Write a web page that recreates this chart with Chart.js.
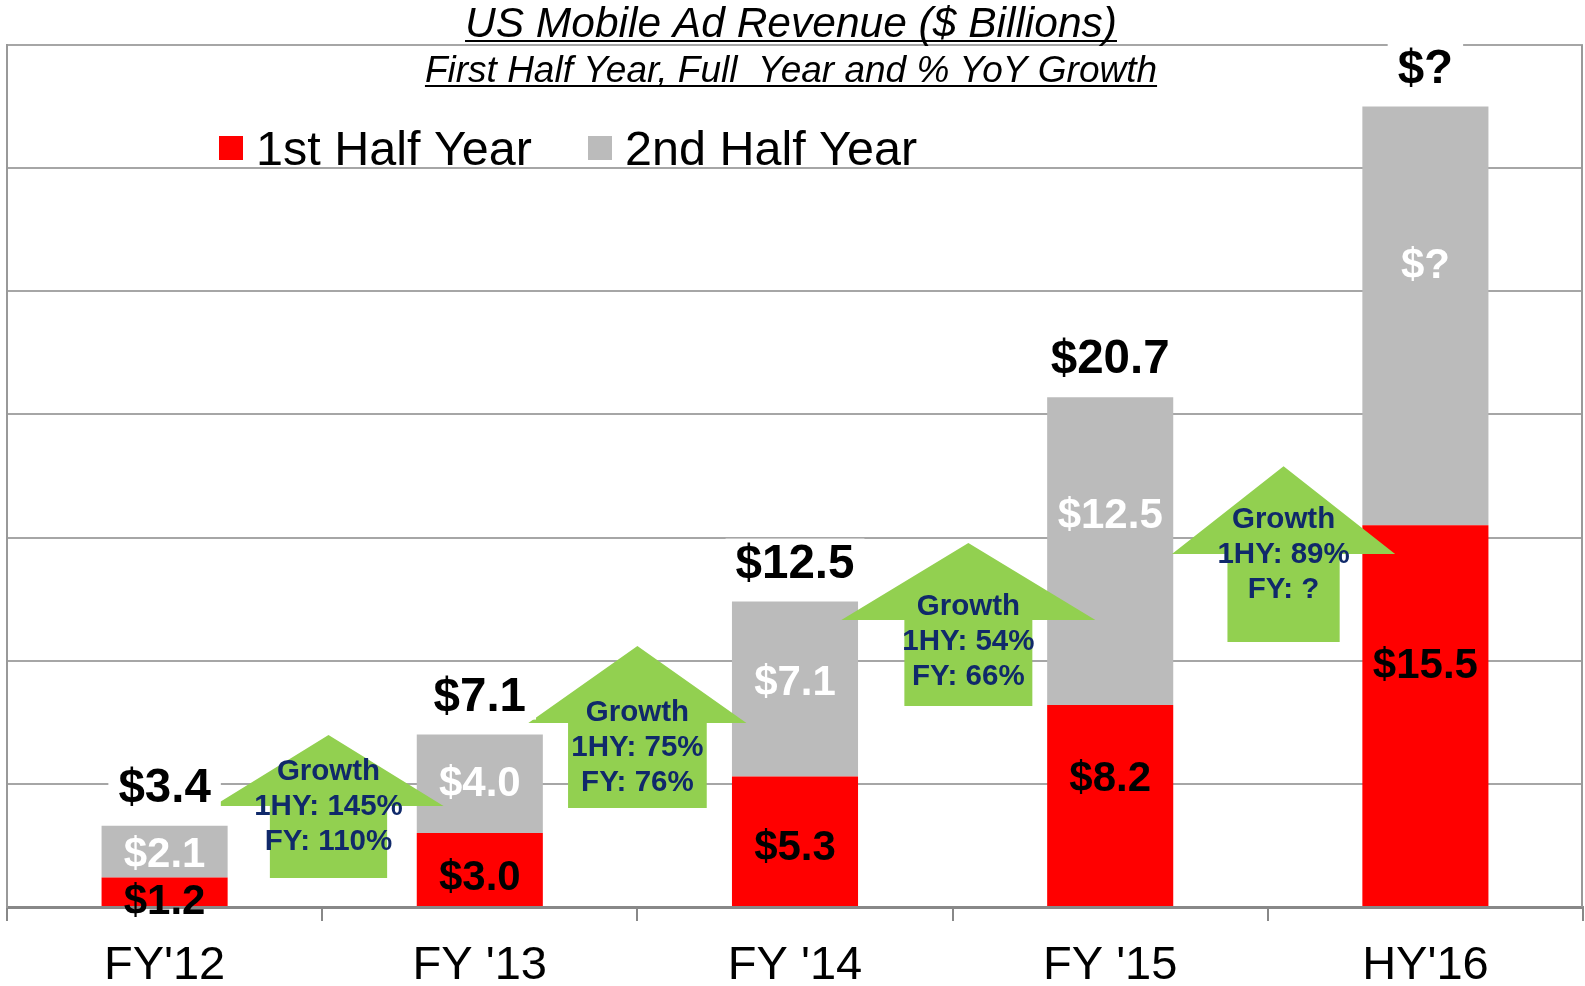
<!DOCTYPE html>
<html>
<head>
<meta charset="utf-8">
<script src="https://cdn.jsdelivr.net/npm/chart.js@4.4.1/dist/chart.umd.min.js"></script>
<style>
  html, body { margin: 0; padding: 0; background: #fff; }
  #wrap { width: 1585px; height: 986px; position: relative; }
</style>
</head>
<body>
<div id="wrap"><canvas id="revenueChart"></canvas></div>
<script>
/* ==========================================================================
   DATA ($ billions)
   ========================================================================== */
const periods = ["FY'12", "FY '13", "FY '14", "FY '15", "HY'16"];
const firstHalf = [1.2, 3.0, 5.3, 8.2, 15.5];
const secondHalf = [2.1, 4.0, 7.1, 12.5, 17.0];
const secondHalfLabels = ['$2.1', '$4.0', '$7.1', '$12.5', '$?'];
const totalLabels = ['$3.4', '$7.1', '$12.5', '$20.7', '$?'];
const growthLabels = [
    ['Growth', '1HY: 145%', 'FY: 110%'],
    ['Growth', '1HY: 75%', 'FY: 76%'],
    ['Growth', '1HY: 54%', 'FY: 66%'],
    ['Growth', '1HY: 89%', 'FY: ?']
];
const yMax = 35;
const yStep = 5;

// Growth arrows, placed on the scales: x = category index, y = $ value
const arrowShapes = [
    { x: 0.52, tip: 6.98, neck: 4.10, foot: 1.18, head: 0.365, shaft: 0.186, text: 5.48 },
    { x: 1.50, tip: 10.6, neck: 7.47, foot: 4.02, head: 0.346, shaft: 0.22, text: 7.88 },
    { x: 2.55, tip: 14.78, neck: 11.65, foot: 8.16, head: 0.403, shaft: 0.203, text: 12.18 },
    { x: 3.55, tip: 17.9, neck: 14.33, foot: 10.76, head: 0.354, shaft: 0.178, text: 15.71 }
];

const FONT = "'Liberation Sans', Arial, sans-serif";
const RED = '#ff0000';
const GREY = '#bbbbbb';
const GREEN = '#92d050';
const NAVY = '#10296a';

/* ==========================================================================
   CUSTOM DRAWING: arrows, bar labels, title, legend
   ========================================================================== */
function underlinedText(ctx, text, cx, baseline, font, gap) {
    ctx.font = font;
    ctx.textAlign = 'center';
    ctx.textBaseline = 'alphabetic';
    ctx.fillStyle = '#000';
    ctx.fillText(text, cx, baseline);
    const w = ctx.measureText(text).width;
    ctx.strokeStyle = '#000';
    ctx.lineWidth = 2;
    ctx.beginPath();
    ctx.moveTo(cx - w / 2, baseline + gap);
    ctx.lineTo(cx + w / 2, baseline + gap);
    ctx.stroke();
}

// where a label sits inside a stacked segment
function segmentLabelY(bar, isFirstHalf) {
    const top = Math.min(bar.y, bar.base);
    const h = Math.abs(bar.base - bar.y);
    if (h >= 185) return top + h * 0.37 + (isFirstHalf ? 0 : 5);
    return top + h / 2 + (isFirstHalf ? 12 - 0.04 * h : 7 - 0.07 * h);
}

const decorations = {
    id: 'decorations',
    afterDatasetsDraw(chart) {
        const { ctx, scales: { x, y } } = chart;
        const x0 = x.getPixelForValue(0);
        const cw = x.getPixelForValue(1) - x0;
        ctx.save();

        // growth arrows
        arrowShapes.forEach((a, i) => {
            const cx = x0 + a.x * cw;
            const tipY = y.getPixelForValue(a.tip);
            const neckY = y.getPixelForValue(a.neck);
            const footY = y.getPixelForValue(a.foot);
            const hw = a.head * cw;
            const sw = a.shaft * cw;
            ctx.fillStyle = GREEN;
            ctx.beginPath();
            ctx.moveTo(cx, tipY);
            ctx.lineTo(cx + hw, neckY);
            ctx.lineTo(cx + sw, neckY);
            ctx.lineTo(cx + sw, footY);
            ctx.lineTo(cx - sw, footY);
            ctx.lineTo(cx - sw, neckY);
            ctx.lineTo(cx - hw, neckY);
            ctx.closePath();
            ctx.fill();

            ctx.fillStyle = NAVY;
            ctx.font = 'bold 29.5px ' + FONT;
            ctx.textAlign = 'center';
            ctx.textBaseline = 'middle';
            const ty = y.getPixelForValue(a.text);
            growthLabels[i].forEach((line, k) => {
                ctx.fillText(line, cx, ty + k * 35);
            });
        });

        // labels inside the stacked segments
        const metaA = chart.getDatasetMeta(0);
        const metaB = chart.getDatasetMeta(1);
        ctx.textAlign = 'center';
        ctx.textBaseline = 'middle';
        ctx.font = 'bold 42px ' + FONT;
        metaA.data.forEach((bar, i) => {
            ctx.fillStyle = '#000';
            ctx.fillText('$' + firstHalf[i].toFixed(1), bar.x, segmentLabelY(bar, true));
        });
        metaB.data.forEach((bar, i) => {
            ctx.fillStyle = '#fff';
            ctx.fillText(secondHalfLabels[i], bar.x, segmentLabelY(bar, false));
        });

        // totals above each bar, on a white patch
        ctx.font = 'bold 47.5px ' + FONT;
        metaB.data.forEach((bar, i) => {
            const ly = bar.y - 39;
            const w = ctx.measureText(totalLabels[i]).width;
            ctx.fillStyle = '#fff';
            ctx.fillRect(bar.x - w / 2 - 10, ly - 24, w + 20, 48);
            ctx.fillStyle = '#000';
            ctx.fillText(totalLabels[i], bar.x, ly + 2);
        });
        ctx.restore();
    },
    afterDraw(chart) {
        const { ctx, chartArea } = chart;
        ctx.save();

        // right frame edge
        ctx.strokeStyle = '#999';
        ctx.lineWidth = 2;
        ctx.beginPath();
        ctx.moveTo(chartArea.right - 1, chartArea.top);
        ctx.lineTo(chartArea.right - 1, chartArea.bottom);
        ctx.stroke();

        // title + subtitle
        underlinedText(ctx, 'US Mobile Ad Revenue ($ Billions)', 791, 37, 'italic 42.5px ' + FONT, 4);
        underlinedText(ctx, 'First Half Year, Full  Year and % YoY Growth', 791, 82, 'italic 37px ' + FONT, 4);

        // legend
        const items = [
            { x: 219, textX: 256 },
            { x: 588, textX: 625 }
        ];
        ctx.font = '48.5px ' + FONT;
        ctx.textAlign = 'left';
        ctx.textBaseline = 'alphabetic';
        chart.data.datasets.forEach((ds, i) => {
            ctx.fillStyle = ds.backgroundColor;
            ctx.fillRect(items[i].x, 136, 24, 24);
            ctx.fillStyle = '#000';
            ctx.fillText(ds.label, items[i].textX, 165);
        });
        ctx.restore();
    }
};

/* ==========================================================================
   CHART
   ========================================================================== */
Chart.defaults.font.family = FONT;

new Chart(document.getElementById('revenueChart'), {
    type: 'bar',
    data: {
        labels: periods,
        datasets: [
            { label: '1st Half Year', data: firstHalf, backgroundColor: RED },
            { label: '2nd Half Year', data: secondHalf, backgroundColor: GREY }
        ]
    },
    options: {
        responsive: true,
        maintainAspectRatio: false,
        animation: false,
        events: [],
        barPercentage: 0.4,
        categoryPercentage: 1.0,
        layout: { padding: { left: 7, right: 2, top: 45, bottom: 2 } },
        plugins: {
            legend: { display: false },
            title: { display: false },
            tooltip: { enabled: false }
        },
        scales: {
            x: {
                stacked: true,
                afterFit: (scale) => { scale.height = 77; },
                grid: {
                    offset: true,
                    drawOnChartArea: false,
                    color: '#888',
                    lineWidth: 2,
                    tickLength: 14
                },
                border: { color: '#888', width: 3 },
                ticks: {
                    color: '#000',
                    padding: 17,
                    font: { size: 47 }
                }
            },
            y: {
                stacked: true,
                min: 0,
                max: yMax,
                afterFit: (scale) => { scale.width = 0; },
                ticks: { stepSize: yStep, display: false },
                grid: { color: '#a6a6a6', lineWidth: 2, drawTicks: false },
                border: { display: true, color: '#999', width: 2 }
            }
        }
    },
    plugins: [decorations]
});
</script>
</body>
</html>
